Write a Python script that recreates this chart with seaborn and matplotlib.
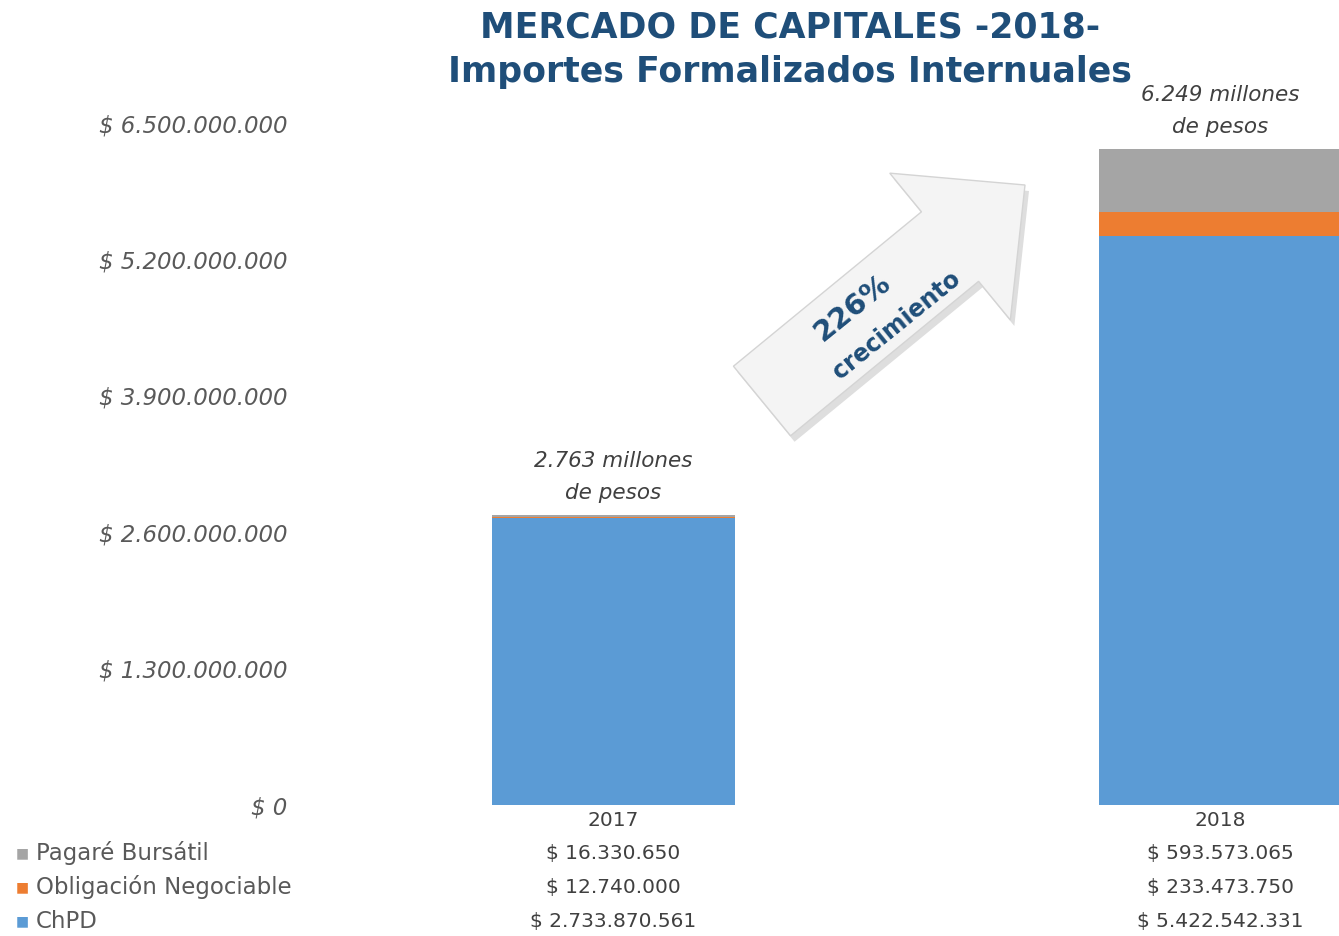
import numpy as np
import pandas as pd
import matplotlib.pyplot as plt
import seaborn as sns
from matplotlib.patches import FancyArrow
from matplotlib.transforms import IdentityTransform, blended_transform_factory

# data
years = ["2017", "2018"]
chpd = [2733870561, 5422542331]
obligacion = [12740000, 233473750]
pagare = [16330650, 593573065]
total_labels = ["2.763", "6.249"]
series_names = ["Pagaré Bursátil", "Obligación Negociable", "ChPD"]
series_colors = ["#A5A5A5", "#ED7D31", "#5B9BD5"]
yticks = [0, 1.3e9, 2.6e9, 3.9e9, 5.2e9, 6.5e9]


def fmt(v):
    return "$ " + f"{int(v):,}".replace(",", ".")


sns.set_style("white")
plt.rcParams["font.family"] = ["DejaVu Sans"]

W, H = 1339, 936
fig = plt.figure(figsize=(W / 100, H / 100), dpi=100)
ax = fig.add_axes([300 / W, 1 - 805 / H, 1 - 300 / W, (805 - 70) / H])

df = pd.DataFrame({"year": years, "ChPD": chpd, "Obl": obligacion, "Pag": pagare})
df["top_obl"] = df["ChPD"] + df["Obl"]
df["total"] = df["top_obl"] + df["Pag"]

# stacked bars: draw cumulative sums from the top layer down
for col, color in zip(["total", "top_obl", "ChPD"], series_colors):
    sns.barplot(data=df, x="year", y=col, color=color, width=0.4, saturation=1,
                errorbar=None, linewidth=0, ax=ax)

ax.set_xlim(-0.516, 1.196)
ax.set_ylim(0, 6.5e9 * (805 - 70) / 682)
ax.set_yticks(yticks)
ax.set_yticklabels([fmt(v) if v > 0 else "$ 0" for v in yticks],
                   fontsize=16.5, style="italic", color="#595959")
ax.tick_params(axis="y", length=0, pad=9)
ax.tick_params(axis="x", length=0, pad=4, labelsize=14.5, labelcolor="#404040")
ax.set_xlabel("")
ax.set_ylabel("")
sns.despine(ax=ax, left=True, bottom=True)

# totals above bars
for i, (t, lab) in enumerate(zip(df["total"], total_labels)):
    ax.annotate(lab + " millones\nde pesos",
                (i, t), xytext=(0, 9), textcoords="offset points",
                ha="center", va="bottom", fontsize=15.5, style="italic",
                color="#404040", linespacing=1.75)

# data table under the chart
tr = blended_transform_factory(ax.transData, fig.transFigure)
rows = [pagare, obligacion, chpd]
row_y = [853, 887, 921]
for name, color, vals, y in zip(series_names, series_colors, rows, row_y):
    fig.text(16 / W, 1 - y / H, "■", color=color, fontsize=10, va="center")
    fig.text(36 / W, 1 - y / H, name, color="#595959", fontsize=16.5, va="center")
    for i, v in enumerate(vals):
        ax.text(i, 1 - y / H, fmt(v), transform=tr, ha="center", va="center",
                fontsize=14.5, color="#404040")

# title
fig.text(790 / W, 1 - 28 / H, "MERCADO DE CAPITALES -2018-", ha="center", va="center",
         fontsize=25, fontweight="bold", color="#1F4E79")
fig.text(790 / W, 1 - 72 / H, "Importes Formalizados Internuales", ha="center", va="center",
         fontsize=25, fontweight="bold", color="#1F4E79")

# growth arrow (pixel coordinates, origin bottom-left)
x0, y0 = 762, H - 401
dx, dy = 263, 216
shadow = FancyArrow(x0 + 4, y0 - 6, dx, dy, width=90, head_width=190, head_length=97,
                    length_includes_head=True, transform=IdentityTransform(),
                    facecolor="#c8c8c8", edgecolor="none", alpha=0.6, zorder=2)
arrow = FancyArrow(x0, y0, dx, dy, width=90, head_width=190, head_length=97,
                   length_includes_head=True, transform=IdentityTransform(),
                   facecolor="#f4f4f4", edgecolor="#d4d4d4", linewidth=1, zorder=3)
fig.add_artist(shadow)
fig.add_artist(arrow)
fig.text(853 / W, 1 - 308 / H, "226%", rotation=39, ha="center", va="center",
         fontsize=21, fontweight="bold", color="#1F4E79", zorder=4)
fig.text(897 / W, 1 - 325 / H, "crecimiento", rotation=39, ha="center", va="center",
         fontsize=17, fontweight="bold", color="#1F4E79", zorder=4)

fig.savefig("out.png", dpi=100)
